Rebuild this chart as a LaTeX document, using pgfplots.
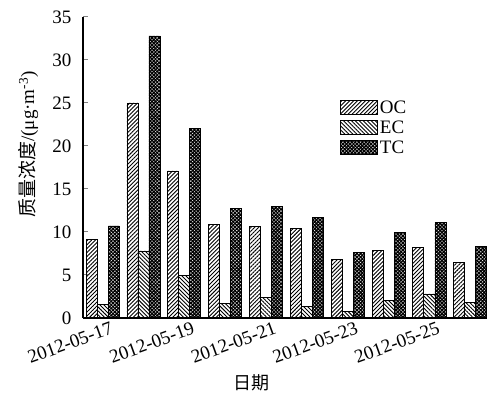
\documentclass[border=0pt]{standalone}
\usepackage{fontspec}
\setmainfont{Liberation Serif}
\newfontfamily\cjk{Noto Sans CJK SC}
\usepackage{pgfplots}
\pgfplotsset{compat=1.18}
\usetikzlibrary{patterns.meta}
\begin{document}
\begin{tikzpicture}
\begin{axis}[
  scale only axis,
  width=404pt, height=301pt,
  xmin=-0.48, xmax=9.41,
  ymin=0, ymax=35,
  axis x line=bottom, axis y line=left,
  axis line style={-, line width=1.3pt},
  ybar=0pt, bar width=0.27,
  ytick={0,5,...,35},
  yticklabels={\rmfamily 0,\rmfamily 5,\rmfamily 10,\rmfamily 15,\rmfamily 20,\rmfamily 25,\rmfamily 30,\rmfamily 35},
  xtick={0,2,4,6,8},
  xticklabels={\rmfamily 2012-05-17,\rmfamily 2012-05-19,\rmfamily 2012-05-21,\rmfamily 2012-05-23,\rmfamily 2012-05-25},
  major x tick style={draw=none},
  major y tick style={line width=1pt},
  tick align=inside, major tick length=5pt,
  every tick label/.append style={font=\rmfamily\fontsize{19}{21}\selectfont},
  yticklabel shift=8pt,
  every x tick label/.append style={rotate=20, anchor=north east, xshift=9pt, yshift=-2pt},
  xlabel={\cjk 日期},
  xlabel style={at={(rel axis cs:0.418,-0.216)}, anchor=center, font=\fontsize{18}{20}\selectfont},
  ylabel={{\cjk 质量浓度}/(μg·m\textsuperscript{-3})},
  ylabel style={at={(rel axis cs:-0.136,0.576)}, anchor=center, rotate=0, font=\fontsize{19}{21}\selectfont},
  legend style={at={(rel axis cs:0.636,0.728)}, anchor=north west, draw=none, fill=none,
    font=\fontsize{19}{20}\selectfont, row sep=2pt, inner sep=0pt, cells={anchor=west}},
  legend image code/.code={\draw[#1, draw=black, line width=0.8pt] (0pt,-6.5pt) rectangle (37pt,7.5pt);},
  every axis plot/.append style={draw=black, line width=0.8pt},
]
\addplot[pattern={Lines[angle=45,distance=2.8pt,line width=0.9pt]}] coordinates {
(0,9.1) (1,25.0) (2,17.1) (3,10.9) (4,10.6) (5,10.4) (6,6.8) (7,7.9) (8,8.2) (9,6.5)};
\addplot[pattern={Lines[angle=-45,distance=2.8pt,line width=0.9pt]}] coordinates {
(0,1.6) (1,7.8) (2,4.9) (3,1.7) (4,2.4) (5,1.3) (6,0.8) (7,2.0) (8,2.8) (9,1.8)};
\addplot[pattern={Hatch[angle=45,distance=2.5pt,line width=1.3pt]}] coordinates {
(0,10.7) (1,32.8) (2,22.0) (3,12.7) (4,13.0) (5,11.7) (6,7.6) (7,9.9) (8,11.1) (9,8.3)};
\legend{OC,EC,TC}
\end{axis}
\pgfresetboundingbox
\path (current axis.south west) ++(-83pt,-77pt) rectangle ++(487pt,395pt);
\end{tikzpicture}
\end{document}
